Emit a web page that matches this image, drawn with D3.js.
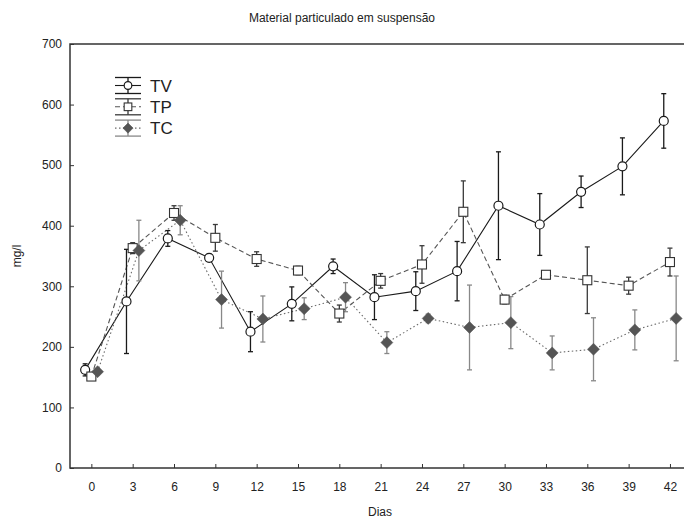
<!DOCTYPE html>
<html>
<head>
<meta charset="utf-8">
<script src="https://cdn.jsdelivr.net/npm/d3@7"></script>
<style>
  html, body { margin: 0; padding: 0; background: #fff; }
  svg { display: block; font-family: "Liberation Sans", Arial, sans-serif; }
</style>
</head>
<body>
<svg id="chart" width="684" height="522"></svg>
<script>
// Days of sampling
const days = [0, 3, 6, 9, 12, 15, 18, 21, 24, 27, 30, 33, 36, 39, 42];

// Mean suspended particulate matter (mg/l) and error half-widths per treatment
const tvMean = [162, 275, 379, 347, 225, 271, 333, 282, 292, 325, 433, 402, 456, 498, 573];
const tvErr  = [10, 86, 13, 6, 33, 28, 12, 37, 32, 49, 89, 51, 26, 47, 45];

const tpMean = [151, 363, 421, 380, 345, 326, 255, 309, 336, 423, 278, 319, 310, 301, 340];
const tpErr  = [5, 9, 12, 22, 12, 7, 14, 12, 31, 51, 7, 4, 55, 14, 23];

const tcMean = [159, 359, 409, 278, 246, 263, 282, 207, 247, 232, 240, 190, 196, 228, 247];
const tcErr  = [5, 50, 24, 47, 38, 18, 24, 18, 7, 70, 43, 28, 52, 33, 70];

const yTicks = [0, 100, 200, 300, 400, 500, 600, 700];

const series = [
  { name: "TV", mean: tvMean, err: tvErr, shift: -0.45, line: "#1a1a1a", dash: null, errColor: "#1a1a1a", shape: "circle" },
  { name: "TP", mean: tpMean, err: tpErr, shift: 0, line: "#555", dash: "5,3", errColor: "#3a3a3a", shape: "square" },
  { name: "TC", mean: tcMean, err: tcErr, shift: 0.45, line: "#6a6a6a", dash: "1.5,2.5", errColor: "#888", shape: "diamond" }
];

const svg = d3.select("#chart");
const plotL = 70, plotT = 44, plotB = 468, plotR = 692;

const x = d3.scaleLinear().domain([-1.55, 43.6]).range([plotL, plotR]);
const y = d3.scaleLinear().domain([0, 700]).range([plotB, plotT]);

// Frame
svg.append("rect")
  .attr("x", plotL).attr("y", plotT)
  .attr("width", plotR - plotL).attr("height", plotB - plotT)
  .attr("fill", "none").attr("stroke", "#333").attr("stroke-width", 1.5);

// Axes with inward ticks
const yAxis = d3.axisLeft(y).tickValues(yTicks).tickSize(-4).tickPadding(8);
const gy = svg.append("g").attr("transform", `translate(${plotL},0)`).call(yAxis);
gy.select(".domain").remove();

const xAxis = d3.axisBottom(x).tickValues(days).tickSize(-4).tickPadding(14);
const gx = svg.append("g").attr("transform", `translate(0,${plotB})`).call(xAxis);
gx.select(".domain").remove();

svg.selectAll(".tick line").attr("stroke", "#333");
svg.selectAll(".tick text").attr("font-size", 12).attr("fill", "#222")
  .attr("font-family", "'Liberation Sans', Arial, sans-serif");

// Titles
svg.append("text").attr("x", 342).attr("y", 22).attr("text-anchor", "middle")
  .attr("font-size", 12).attr("fill", "#222").text("Material particulado em suspensão");
svg.append("text").attr("x", 380).attr("y", 516).attr("text-anchor", "middle")
  .attr("font-size", 12).attr("fill", "#222").text("Dias");
svg.append("text").attr("transform", "translate(21,256) rotate(-90)").attr("text-anchor", "middle")
  .attr("font-size", 12).attr("fill", "#222").text("mg/l");

function drawMarker(g, shape, cx, cy, k = 1) {
  if (shape === "circle") {
    g.append("circle").attr("cx", cx).attr("cy", cy).attr("r", 4.5 * k)
      .attr("fill", "#fff").attr("stroke", "#1a1a1a").attr("stroke-width", 1.2);
  } else if (shape === "square") {
    g.append("rect").attr("x", cx - 4.5 * k).attr("y", cy - 4.5 * k)
      .attr("width", 9 * k).attr("height", 9 * k)
      .attr("fill", "#fff").attr("stroke", "#333").attr("stroke-width", 1.1);
  } else {
    const r = 6 * k;
    g.append("path").attr("d", `M${cx},${cy - r}L${cx + r},${cy}L${cx},${cy + r}L${cx - r},${cy}Z`)
      .attr("fill", "#555").attr("stroke", "#555").attr("stroke-width", 0.5);
  }
}

const lineGen = d3.line();

// Lines first, then error bars, then markers
series.forEach(s => {
  const pts = days.map((d, i) => [x(d + s.shift), y(s.mean[i])]);
  svg.append("path").attr("d", lineGen(pts)).attr("fill", "none")
    .attr("stroke", s.line).attr("stroke-width", 1.1)
    .attr("stroke-dasharray", s.dash);
});

series.forEach(s => {
  const g = svg.append("g").attr("stroke", s.errColor).attr("stroke-width", 1.3);
  days.forEach((d, i) => {
    const cx = x(d + s.shift);
    const y1 = y(s.mean[i] + s.err[i]), y0 = y(s.mean[i] - s.err[i]);
    g.append("line").attr("x1", cx).attr("x2", cx).attr("y1", y1).attr("y2", y0);
    g.append("line").attr("x1", cx - 2.5).attr("x2", cx + 2.5).attr("y1", y1).attr("y2", y1);
    g.append("line").attr("x1", cx - 2.5).attr("x2", cx + 2.5).attr("y1", y0).attr("y2", y0);
  });
});

series.forEach(s => {
  const g = svg.append("g");
  days.forEach((d, i) => drawMarker(g, s.shape, x(d + s.shift), y(s.mean[i])));
});

// Legend
const legend = svg.append("g");
series.forEach((s, i) => {
  const cy = 85.5 + i * 21.3;
  const g = legend.append("g");
  const x0 = 115, x1 = 141, xc = 128;
  g.append("line").attr("x1", x0).attr("x2", x1).attr("y1", cy - 8).attr("y2", cy - 8)
    .attr("stroke", s.errColor).attr("stroke-width", 1.3);
  g.append("line").attr("x1", x0).attr("x2", x1).attr("y1", cy + 8).attr("y2", cy + 8)
    .attr("stroke", s.errColor).attr("stroke-width", 1.3);
  g.append("line").attr("x1", xc).attr("x2", xc).attr("y1", cy - 8).attr("y2", cy + 8)
    .attr("stroke", s.errColor).attr("stroke-width", 1.3);
  g.append("line").attr("x1", x0).attr("x2", x1).attr("y1", cy).attr("y2", cy)
    .attr("stroke", s.line).attr("stroke-width", 1.1).attr("stroke-dasharray", s.dash);
  drawMarker(g, s.shape, xc, cy, 0.85);
  g.append("text").attr("x", 150).attr("y", cy + 6.3).attr("font-size", 17).attr("fill", "#222")
    .text(s.name);
});
</script>
</body>
</html>
